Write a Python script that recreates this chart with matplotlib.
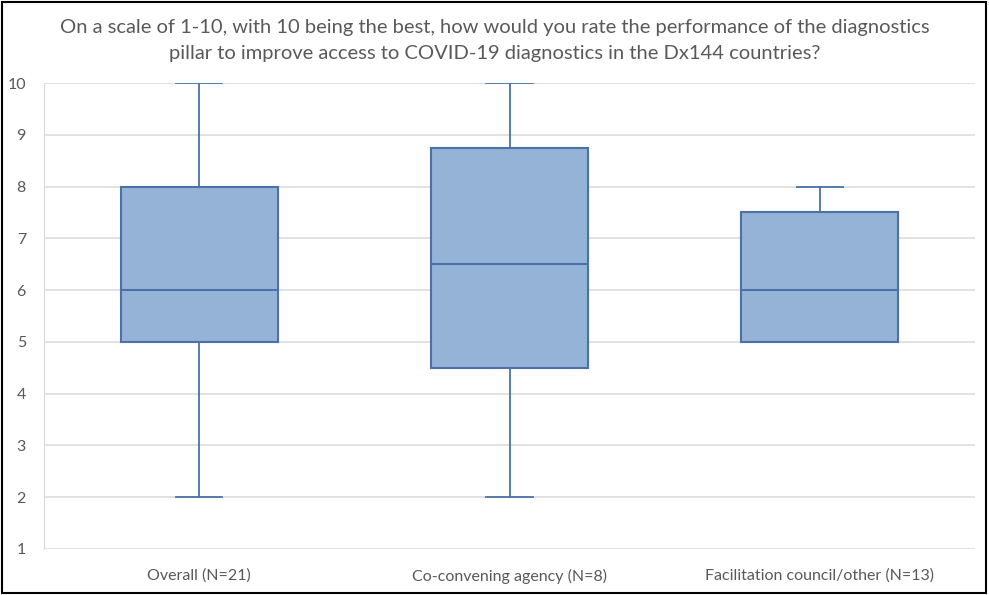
import matplotlib.pyplot as plt
from matplotlib.patches import Rectangle

categories = ["Overall (N=21)", "Co-convening agency (N=8)", "Facilitation council/other (N=13)"]
whisker_low = [2, 2, 5]
q1 = [5, 4.5, 5]
median = [6, 6.5, 6]
q3 = [8, 8.75, 7.5]
whisker_high = [10, 10, 8]
y_ticks = list(range(1, 11))

title_lines = ["On a scale of 1-10, with 10 being the best, how would you rate the performance of the diagnostics",
               "pillar to improve access to COVID-19 diagnostics in the Dx144 countries?"]

plt.rcParams['font.family'] = ['Lato', 'DejaVu Sans']

W, H = 989, 595
fig = plt.figure(figsize=(W / 100, H / 100), dpi=100)
ax = fig.add_axes([44 / W, 1 - 549 / H, (975 - 44) / W, (549 - 83) / H])

stats = []
for i, c in enumerate(categories):
    stats.append(dict(label=c, whislo=whisker_low[i], q1=q1[i], med=median[i],
                      q3=q3[i], whishi=whisker_high[i], fliers=[]))

edge = "#4A72A8"
fill = "#95B3D7"
ax.bxp(stats, positions=[0, 1, 2], widths=0.506, patch_artist=True,
       showfliers=False,
       boxprops=dict(facecolor=fill, edgecolor=edge, linewidth=1.5),
       medianprops=dict(color=edge, linewidth=1.5),
       whiskerprops=dict(color=edge, linewidth=1.3),
       capprops=dict(color=edge, linewidth=1.3),
       capwidths=0.15, zorder=3)

ax.set_xlim(-0.5, 2.5)
ax.set_ylim(1, 10)
ax.set_yticks(y_ticks)
ax.yaxis.grid(True, color="#D9D9D9", linewidth=1.1, zorder=0)
ax.set_axisbelow(True)
for s in ["top", "right", "bottom"]:
    ax.spines[s].set_visible(False)
ax.spines["left"].set_color("#D9D9D9")
ax.tick_params(axis="both", length=0, colors="#595959", labelsize=11.5)
ax.tick_params(axis="y", pad=13)
ax.tick_params(axis="x", pad=14)

for k, line in enumerate(title_lines):
    fig.text(0.5, 1 - (27 + 26 * k) / H, line, ha="center", va="center", fontsize=14.5,
             color="#595959")

fig.patches.append(Rectangle((2 / W, 1 - 593 / H), 984 / W, 591 / H, transform=fig.transFigure,
                             fill=False, edgecolor="black", linewidth=1.5))

fig.savefig("out.png", dpi=100)
